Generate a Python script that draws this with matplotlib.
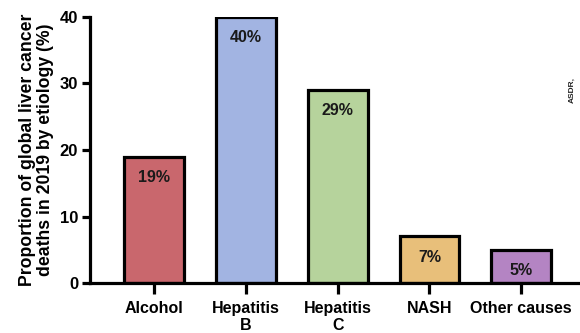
import matplotlib
matplotlib.use("Agg")
import matplotlib.pyplot as plt

categories = ["Alcohol", "Hepatitis\nB", "Hepatitis\nC", "NASH", "Other causes"]
values = [19, 40, 29, 7, 5]
labels = ["19%", "40%", "29%", "7%", "5%"]
colors = ["#C9676D", "#A2B4E2", "#B6D39C", "#E8BF7A", "#B484C3"]
yticks = [0, 10, 20, 30, 40]

plt.rcParams["font.family"] = ["Liberation Sans", "DejaVu Sans"]
plt.rcParams["font.weight"] = "bold"

fig = plt.figure(figsize=(5.8, 3.33), dpi=100)
ax = fig.add_axes([0.155, 0.150, 0.845, 0.799])

x = list(range(len(categories)))
ax.bar(x, values, width=0.65, color=colors, edgecolor="black", linewidth=2.3, zorder=2)
for xi, v, lab in zip(x, values, labels):
    ax.text(xi, v - 2.0, lab, ha="center", va="top", fontsize=11.5, fontweight="bold", color="#1a1a1a")

ax.set_xlim(-0.70, 4.64)
ax.set_ylim(0, 40)
ax.set_yticks(yticks)
ax.set_xticks(x)
ax.set_xticklabels(categories, fontsize=11.5, fontweight="bold", linespacing=1.15)
ax.tick_params(axis="y", labelsize=12, width=2.3, length=6, pad=2.5)
ax.tick_params(axis="x", width=2.3, length=8, pad=5)
for t in ax.get_yticklabels():
    t.set_fontweight("bold")

for s in ["top", "right"]:
    ax.spines[s].set_visible(False)
for s in ["left", "bottom"]:
    ax.spines[s].set_linewidth(2.3)
ax.spines["left"].set_bounds(0, 40)

ax.set_ylabel("Proportion of global liver cancer\ndeaths in 2019 by etiology (%)",
              fontsize=12.7, fontweight="bold", linespacing=1.1, labelpad=4)

fig.text(0.986, 0.73, "ASDR,", rotation=90, fontsize=6, fontweight="bold",
         ha="center", va="center", color="#222222")

fig.savefig("out.png", dpi=100)
